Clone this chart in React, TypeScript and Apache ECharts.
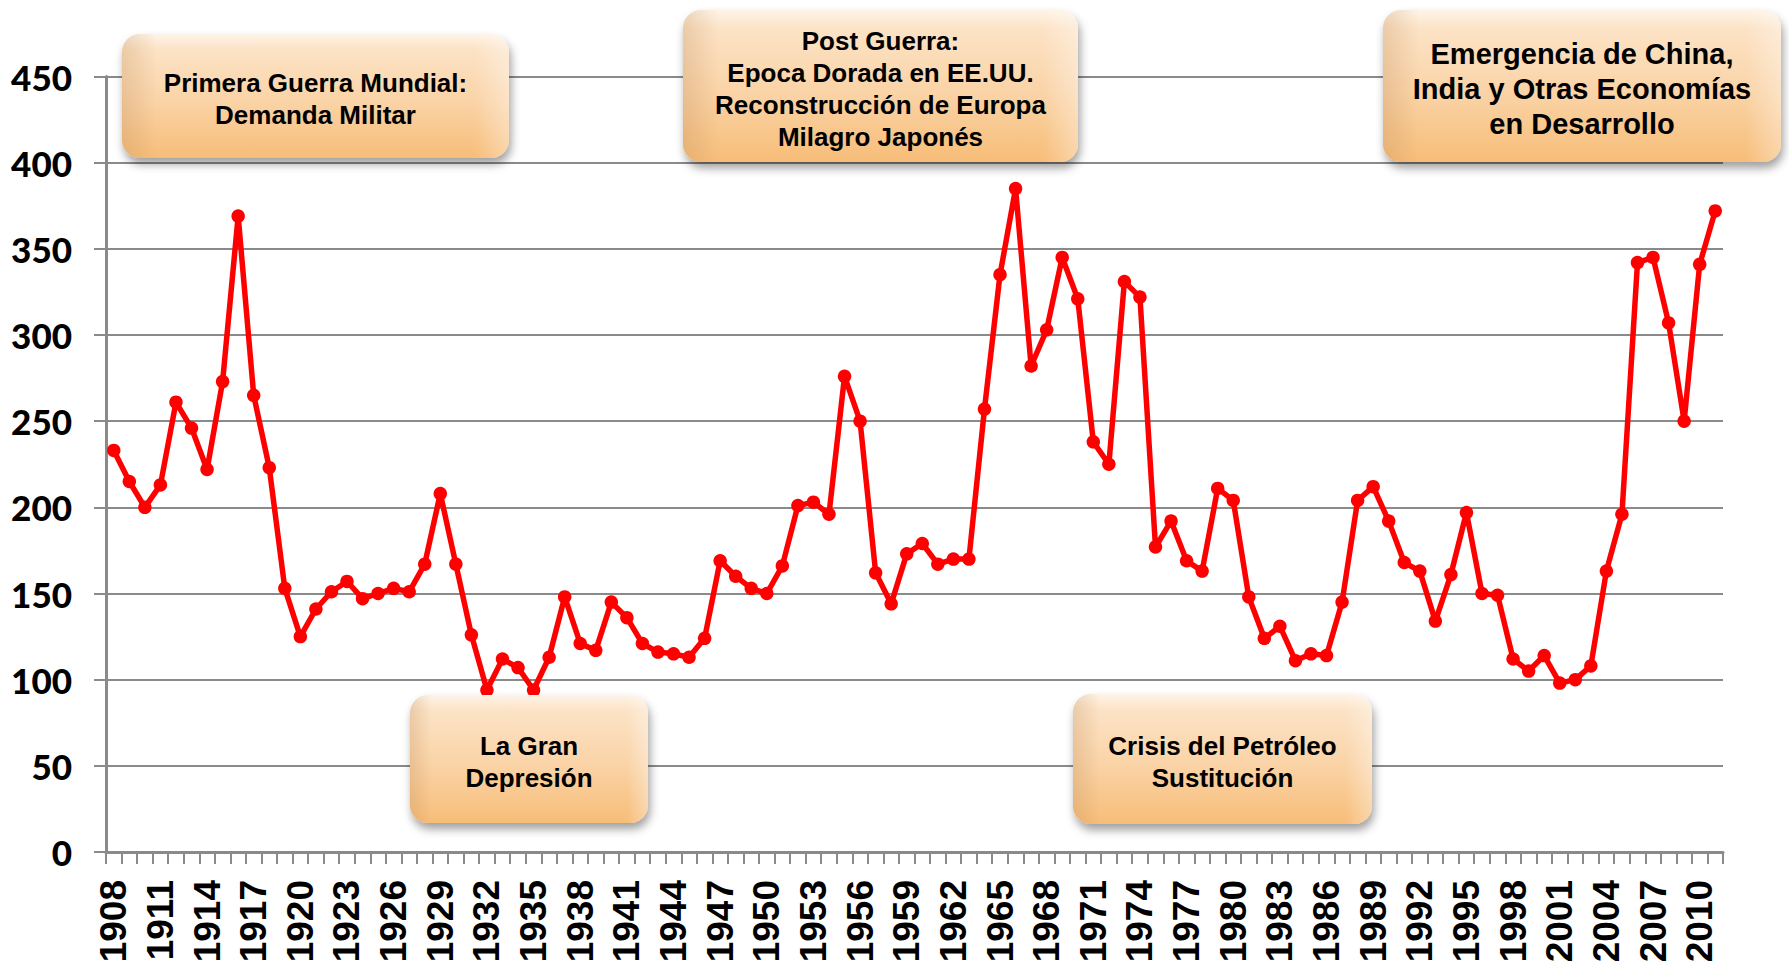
import React, { useEffect, useRef } from "react";
import * as echarts from "echarts";

const years = [
  "1908","1909","1910","1911","1912","1913","1914","1915","1916","1917",
  "1918","1919","1920","1921","1922","1923","1924","1925","1926","1927",
  "1928","1929","1930","1931","1932","1933","1934","1935","1936","1937",
  "1938","1939","1940","1941","1942","1943","1944","1945","1946","1947",
  "1948","1949","1950","1951","1952","1953","1954","1955","1956","1957",
  "1958","1959","1960","1961","1962","1963","1964","1965","1966","1967",
  "1968","1969","1970","1971","1972","1973","1974","1975","1976","1977",
  "1978","1979","1980","1981","1982","1983","1984","1985","1986","1987",
  "1988","1989","1990","1991","1992","1993","1994","1995","1996","1997",
  "1998","1999","2000","2001","2002","2003","2004","2005","2006","2007",
  "2008","2009","2010","2011",
];

const values = [
  233, 215, 200, 213, 261, 246, 222, 273, 369, 265,
  223, 153, 125, 141, 151, 157, 147, 150, 153, 151,
  167, 208, 167, 126, 94, 112, 107, 94, 113, 148,
  121, 117, 145, 136, 121, 116, 115, 113, 124, 169,
  160, 153, 150, 166, 201, 203, 196, 276, 250, 162,
  144, 173, 179, 167, 170, 170, 257, 335, 385, 282,
  303, 345, 321, 238, 225, 331, 322, 177, 192, 169,
  163, 211, 204, 148, 124, 131, 111, 115, 114, 145,
  204, 212, 192, 168, 163, 134, 161, 197, 150, 149,
  112, 105, 114, 98, 100, 108, 163, 196, 342, 345,
  307, 250, 341, 372,
];

const yMin = 0;
const yMax = 450;
const yStep = 50;

const noteTexts = [
  "Primera Guerra Mundial:\nDemanda Militar",
  "Post Guerra:\nEpoca Dorada en EE.UU.\nReconstrucción de Europa\nMilagro Japonés",
  "Emergencia de China,\nIndia y Otras Economías\nen Desarrollo",
  "La Gran\nDepresión",
  "Crisis del Petróleo\nSustitución",
];

// layout of the note boxes (pixels)
const noteBoxes = [
  { x: 122, y: 34, w: 387, h: 124, fs: 26, lh: 32 },
  { x: 683, y: 10, w: 395, h: 152, fs: 26, lh: 32 },
  { x: 1383, y: 10, w: 398, h: 152, fs: 29, lh: 35 },
  { x: 410, y: 695, w: 238, h: 128, fs: 26, lh: 32 },
  { x: 1073, y: 694, w: 299, h: 130, fs: 26, lh: 32 },
];

function buildNotes() {
  const out: any[] = [];
  noteTexts.forEach((t, i) => {
    const b = noteBoxes[i];
    out.push({
      type: "rect",
      z: 100,
      shape: { x: b.x, y: b.y, width: b.w, height: b.h, r: 18 },
      style: {
        fill: new echarts.graphic.LinearGradient(0, 0, 0, 1, [
          { offset: 0, color: "#fef4e8" },
          { offset: 0.12, color: "#fce3c6" },
          { offset: 0.55, color: "#fad3a6" },
          { offset: 1, color: "#f7bd78" },
        ]),
        shadowBlur: 10,
        shadowOffsetX: 2,
        shadowOffsetY: 6,
        shadowColor: "rgba(0,0,0,0.38)",
      },
    });
    out.push({
      type: "rect",
      z: 101,
      shape: { x: b.x, y: b.y, width: b.w, height: b.h, r: 18 },
      style: {
        fill: new echarts.graphic.LinearGradient(0, 0, 1, 0, [
          { offset: 0, color: "rgba(190,140,90,0.28)" },
          { offset: 0.09, color: "rgba(190,140,90,0)" },
          { offset: 0.91, color: "rgba(255,255,255,0)" },
          { offset: 1, color: "rgba(255,255,255,0.35)" },
        ]),
      },
    });
    out.push({
      type: "text",
      z: 102,
      x: b.x + b.w / 2,
      y: b.y + b.h / 2 + 3,
      style: {
        text: t,
        fill: "#000",
        fontFamily: "'Liberation Sans', Arial, sans-serif",
        fontWeight: "bold",
        fontSize: b.fs,
        lineHeight: b.lh,
        align: "center",
        verticalAlign: "middle",
      },
    });
  });
  return out;
}

export default function App() {
  const ref = useRef<HTMLDivElement>(null);
  useEffect(() => {
    if (!ref.current) return;
    const chart = echarts.init(ref.current, null, { renderer: "svg" });
    const gray = "#8a8a8a";
    chart.setOption({
      animation: false,
      backgroundColor: "#ffffff",
      grid: { left: 106, right: 66, top: 76.5, bottom: 119, containLabel: false },
      xAxis: {
        type: "category",
        data: years,
        boundaryGap: true,
        axisLine: { show: true, lineStyle: { color: gray, width: 3 } },
        axisTick: { show: true, interval: 0, length: 12, lineStyle: { color: gray, width: 2 } },
        axisLabel: {
          interval: 2,
          rotate: 90,
          margin: 28,
          color: "#000",
          fontFamily: "'Liberation Sans', Arial, sans-serif",
          fontWeight: "bold",
          fontSize: 37,
        },
        splitLine: { show: false },
      },
      yAxis: {
        type: "value",
        min: yMin,
        max: yMax,
        interval: yStep,
        axisLine: { show: true, lineStyle: { color: gray, width: 3 } },
        axisTick: { show: true, length: 12, lineStyle: { color: gray, width: 2 } },
        axisLabel: {
          margin: 34,
          color: "#000",
          fontFamily: "Lato, 'Liberation Sans', sans-serif",
          fontWeight: 900,
          fontSize: 35,
        },
        splitLine: { show: true, lineStyle: { color: gray, width: 2 } },
      },
      series: [
        {
          type: "line",
          data: values,
          symbol: "circle",
          symbolSize: 13.5,
          showAllSymbol: true,
          lineStyle: { color: "#ff0000", width: 5.5 },
          itemStyle: { color: "#ff0000" },
          z: 5,
        },
      ],
      graphic: buildNotes(),
    });
    return () => chart.dispose();
  }, []);
  return (
    <div
      ref={ref}
      style={{ position: "fixed", left: 0, top: 0, width: 1789, height: 971, background: "#fff" }}
    />
  );
}
